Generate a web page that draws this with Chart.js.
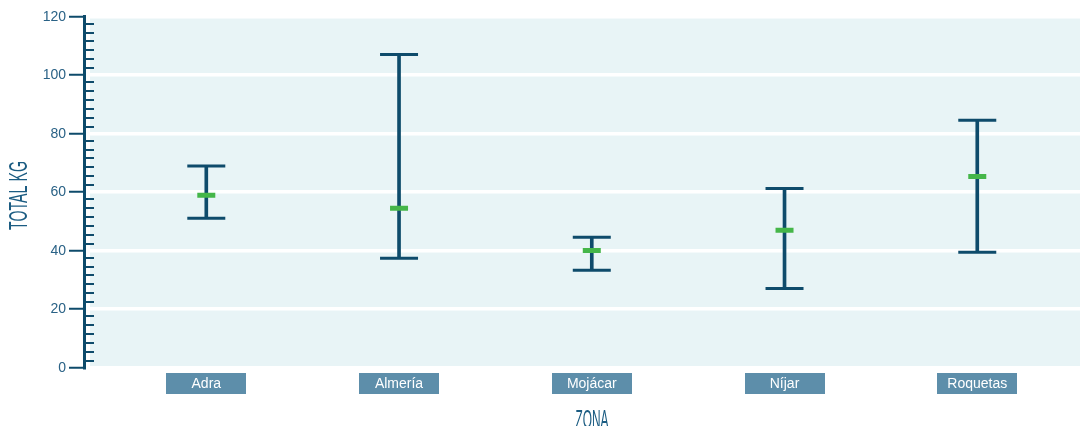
<!DOCTYPE html>
<html>
<head>
<meta charset="utf-8">
<script src="https://cdn.jsdelivr.net/npm/chart.js@4"></script>
<style>
    html, body { margin: 0; padding: 0; background: #ffffff; }
    #wrap { width: 1080px; height: 426px; position: relative; }
</style>
</head>
<body>
<div id="wrap"><canvas id="zonaChart"></canvas></div>
<script>
// datos (kg por zona)
const zonas = ['Adra', 'Almería', 'Mojácar', 'Níjar', 'Roquetas'];
const minimos = [51.1, 37.4, 33.3, 27.1, 39.5];
const medias = [59.0, 54.5, 40.1, 47.0, 65.4];
const maximos = [69.0, 107.1, 44.6, 61.3, 84.6];
const yTicks = [0, 20, 40, 60, 80, 100, 120];

const AZUL = '#0e4b6b';
const VERDE = '#45b649';
const FONDO = '#e8f4f6';
const CAJA = '#5d8eaa';
const TEXTO = '#2a6286';

// --- fondo del area y cajas de las etiquetas ---
const fondoPlugin = {
    id: 'fondo',
    beforeDraw(chart) {
        const { ctx, chartArea, scales } = chart;
        ctx.save();
        ctx.fillStyle = FONDO;
        ctx.fillRect(chartArea.left + 6, chartArea.top, chartArea.right - chartArea.left - 6, chartArea.bottom - chartArea.top);
        ctx.fillStyle = CAJA;
        zonas.forEach((z, i) => {
            const cx = scales.x.getPixelForValue(i);
            ctx.fillRect(Math.round(cx - 40), Math.round(chartArea.bottom + 5.3), 80, 21);
        });
        ctx.restore();
    }
};

// --- ticks menores y titulos de los ejes ---
const ejesPlugin = {
    id: 'ejes',
    afterDraw(chart) {
        const { ctx, chartArea, scales } = chart;
        const y = scales.y;
        ctx.save();
        ctx.strokeStyle = AZUL;
        ctx.lineWidth = 2;
        for (let k = 0; k < yTicks.length - 1; k++) {
            for (let j = 0; j < 6; j++) {
                const v = yTicks[k] + 10 + 3.05 * (j - 2.5);
                const py = Math.round(y.getPixelForValue(v));
                ctx.beginPath();
                ctx.moveTo(chartArea.left, py);
                ctx.lineTo(chartArea.left + 10, py);
                ctx.stroke();
            }
        }

        ctx.fillStyle = '#1b5c82';
        ctx.font = '25px "Liberation Sans", Arial, sans-serif';
        ctx.textAlign = 'center';
        ctx.textBaseline = 'alphabetic';

        // titulo eje x
        let w = ctx.measureText('ZONA').width;
        ctx.save();
        ctx.translate((chartArea.left + chartArea.right) / 2 + 10, 427.5);
        ctx.scale(33 / w, 1);
        ctx.fillText('ZONA', 0, 0);
        ctx.restore();

        // titulo eje y
        w = ctx.measureText('TOTAL KG').width;
        ctx.save();
        ctx.translate(26.7, 195.5);
        ctx.rotate(-Math.PI / 2);
        ctx.scale(69 / w, 1);
        ctx.fillText('TOTAL KG', 0, 0);
        ctx.restore();
        ctx.restore();
    }
};

document.addEventListener('DOMContentLoaded', function() {
    const ctx = document.getElementById('zonaChart');

    new Chart(ctx, {
        type: 'scatter',
        data: {
            datasets: [
                {
                    label: 'Media',
                    order: 0,
                    data: zonas.map((z, i) => ({ x: i, y: medias[i] })),
                    pointStyle: 'line',
                    pointRadius: 9,
                    pointHoverRadius: 9,
                    pointBorderWidth: 5,
                    pointHoverBorderWidth: 5,
                    pointBorderColor: VERDE
                },
                {
                    label: 'Máximo',
                    order: 1,
                    data: zonas.map((z, i) => ({ x: i, y: maximos[i] })),
                    pointStyle: 'line',
                    pointRadius: 19,
                    pointHoverRadius: 19,
                    pointBorderWidth: 3,
                    pointHoverBorderWidth: 3,
                    pointBorderColor: AZUL
                },
                {
                    label: 'Mínimo',
                    order: 1,
                    data: zonas.map((z, i) => ({ x: i, y: minimos[i] })),
                    pointStyle: 'line',
                    pointRadius: 19,
                    pointHoverRadius: 19,
                    pointBorderWidth: 3,
                    pointHoverBorderWidth: 3,
                    pointBorderColor: AZUL
                },
                {
                    type: 'bar',
                    label: 'Rango',
                    order: 2,
                    data: zonas.map((z, i) => ({ x: i, y: [minimos[i], maximos[i]] })),
                    backgroundColor: AZUL,
                    barThickness: 3
                }
            ]
        },
        options: {
            responsive: true,
            maintainAspectRatio: false,
            animation: false,
            events: [],
            layout: { autoPadding: false, padding: { top: 16.7, left: 0, right: 0, bottom: 0 } },
            plugins: {
                legend: { display: false },
                tooltip: { enabled: false }
            },
            scales: {
                x: {
                    type: 'linear',
                    offset: false,
                    min: -0.6345,
                    max: 4.533,
                    grid: { display: false, drawTicks: false, offset: false },
                    border: { display: false },
                    afterBuildTicks: (scale) => {
                        scale.ticks = zonas.map((z, i) => ({ value: i }));
                    },
                    afterFit: (scale) => { scale.height = 58.3; },
                    ticks: {
                        autoSkip: false,
                        maxRotation: 0,
                        padding: 8,
                        color: '#ffffff',
                        font: { family: '"Liberation Sans", Arial, sans-serif', size: 14 },
                        callback: (value) => zonas[value]
                    }
                },
                y: {
                    min: 0,
                    max: 120,
                    afterBuildTicks: (scale) => {
                        scale.ticks = yTicks.map(v => ({ value: v }));
                    },
                    afterFit: (scale) => { scale.width = 84; },
                    grid: {
                        color: '#ffffff',
                        lineWidth: 3.5,
                        tickColor: AZUL,
                        tickWidth: 2,
                        tickLength: 15
                    },
                    border: { color: AZUL, width: 3 },
                    ticks: {
                        padding: 3,
                        color: TEXTO,
                        font: { family: '"Liberation Sans", Arial, sans-serif', size: 14 }
                    }
                }
            }
        },
        plugins: [fondoPlugin, ejesPlugin]
    });
});
</script>
</body>
</html>
